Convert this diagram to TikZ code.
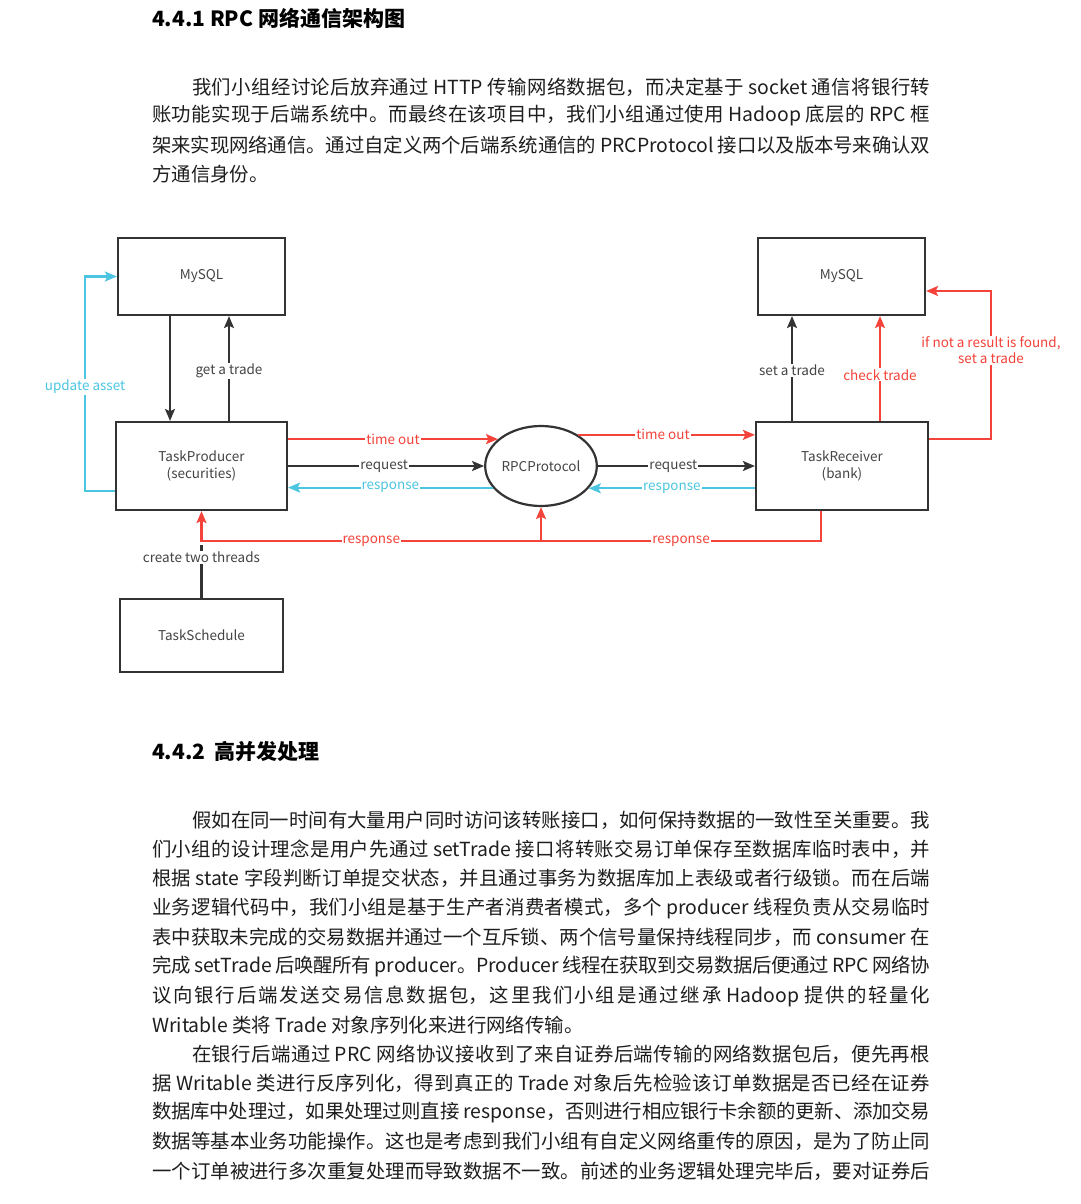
\documentclass[tikz,border=0pt]{standalone}
\usepackage{fontspec}
\setmainfont{Noto Sans CJK SC}
\usetikzlibrary{arrows.meta,shapes.geometric}
\XeTeXlinebreaklocale "zh"
\XeTeXlinebreakskip=0pt plus 4pt minus 1pt
\newcommand{\jline}[2]{\parbox{#1}{\tolerance=9999\parfillskip=0pt\noindent #2}}
\definecolor{cred}{HTML}{F4433A}
\definecolor{ccyan}{HTML}{4CC6E0}
\definecolor{dk}{HTML}{333333}
\definecolor{lbl}{HTML}{444444}
\definecolor{body}{HTML}{1E1E1E}
\tikzset{
  tip/.style={-{Stealth[length=12pt,width=10pt,inset=2.5pt]}},
  conn/.style={line width=2.1pt},
  blk/.style={conn,draw=dk},
  rd/.style={conn,draw=cred},
  cy/.style={conn,draw=ccyan},
  boxnode/.style={draw=dk,line width=2.2pt,inner sep=0pt,align=center,text=lbl,font=\fontsize{13.5}{16.5}\selectfont},
  lab/.style={fill=white,inner sep=1pt,font=\fontsize{13.5}{16}\selectfont},
  bodyline/.style={anchor=west,inner sep=0pt,text=body,font=\fontsize{19.4}{23}\selectfont},
  heading/.style={anchor=west,inner sep=0pt,text=black,font=\fontsize{21}{25}\selectfont\bfseries},
}
\begin{document}
\begin{tikzpicture}[x=1pt,y=-1pt]
\fill[white] (0,0) rectangle (1080,1204);
\useasboundingbox (0,0) rectangle (1080,1204);

% headings and text
\node[heading] (h1) at (152,18) {4.4.1 RPC 网络通信架构图};
\node[bodyline] (a1) at (192,87) {\jline{738pt}{我们小组经讨论后放弃通过 HTTP 传输网络数据包，而决定基于 socket 通信将银行转}};
\node[bodyline] (a2) at (152,116) {\jline{778pt}{账功能实现于后端系统中。而最终在该项目中，我们小组通过使用 Hadoop 底层的 RPC 框}};
\node[bodyline] (a3) at (152,145) {\jline{778pt}{架来实现网络通信。通过自定义两个后端系统通信的 PRCProtocol 接口以及版本号来确认双}};
\node[bodyline] (a4) at (152,174) {方通信身份。};

\node[heading] (h2) at (152,752) {4.4.2\ \ 高并发处理};
\node[bodyline] (b1) at (192,820) {\jline{738pt}{假如在同一时间有大量用户同时访问该转账接口，如何保持数据的一致性至关重要。我}};
\node[bodyline] (b2) at (152,849) {\jline{778pt}{们小组的设计理念是用户先通过 setTrade 接口将转账交易订单保存至数据库临时表中，并}};
\node[bodyline] (b3) at (152,878) {\jline{778pt}{根据 state 字段判断订单提交状态，并且通过事务为数据库加上表级或者行级锁。而在后端}};
\node[bodyline] (b4) at (152,908) {\jline{778pt}{业务逻辑代码中，我们小组是基于生产者消费者模式，多个 producer 线程负责从交易临时}};
\node[bodyline] (b5) at (152,937) {\jline{778pt}{表中获取未完成的交易数据并通过一个互斥锁、两个信号量保持线程同步，而 consumer 在}};
\node[bodyline] (b6) at (152,966) {\jline{778pt}{完成 setTrade 后唤醒所有 producer。Producer 线程在获取到交易数据后便通过 RPC 网络协}};
\node[bodyline] (b7) at (152,996) {\jline{778pt}{议向银行后端发送交易信息数据包，这里我们小组是通过继承 Hadoop 提供的轻量化}};
\node[bodyline] (b8) at (152,1025) {Writable 类将 Trade 对象序列化来进行网络传输。};
\node[bodyline] (c1) at (192,1054) {\jline{738pt}{在银行后端通过 PRC 网络协议接收到了来自证券后端传输的网络数据包后，便先再根}};
\node[bodyline] (c2) at (152,1083) {\jline{778pt}{据 Writable 类进行反序列化，得到真正的 Trade 对象后先检验该订单数据是否已经在证券}};
\node[bodyline] (c3) at (152,1112) {\jline{778pt}{数据库中处理过，如果处理过则直接 response，否则进行相应银行卡余额的更新、添加交易}};
\node[bodyline] (c4) at (152,1141) {\jline{778pt}{数据等基本业务功能操作。这也是考虑到我们小组有自定义网络重传的原因，是为了防止同}};
\node[bodyline] (c5) at (152,1171) {\jline{778pt}{一个订单被进行多次重复处理而导致数据不一致。前述的业务逻辑处理完毕后，要对证券后}};

% diagram nodes
\node[boxnode,minimum width=167pt,minimum height=77pt] (mysqlL) at (201.5,276.5) {MySQL};
\node[boxnode,minimum width=171pt,minimum height=88pt] (tp) at (201.5,466) {TaskProducer\\(securities)};
\node[boxnode,minimum width=163pt,minimum height=73pt] (ts) at (201.5,635.5) {TaskSchedule};
\node[boxnode,minimum width=167pt,minimum height=77pt] (mysqlR) at (841.5,276.5) {MySQL};
\node[boxnode,minimum width=172pt,minimum height=88pt] (tr) at (842,466) {TaskReceiver\\(bank)};
\node[boxnode,ellipse,minimum width=102pt,minimum height=80pt] (rpc) at (541,466) {RPCProtocol};

% helper coordinates
\coordinate (xa) at (170,0);
\coordinate (xb) at (229,0);
\coordinate (xu) at (85,0);
\coordinate (xs) at (792,0);
\coordinate (xc) at (880,0);
\coordinate (xf) at (991,0);
\coordinate (xr) at (821,0);
\coordinate (y491) at (0,491);
\coordinate (y541) at (0,541);
\coordinate (y545) at (0,545);
\coordinate (y439) at (0,439);
\coordinate (y291) at (0,291);

% left column
\draw[blk,tip] (xa |- mysqlL.south) -- (xa |- tp.north);
\draw[blk,tip] (xb |- tp.north) -- node[lab,text=lbl,pos=0.48] {get a trade} (xb |- mysqlL.south);
\draw[cy,tip] (tp.west |- y491) -- (xu |- y491) -- node[lab,text=ccyan,pos=0.486] {update asset} (xu |- mysqlL.west) -- (mysqlL.west);

% producer <-> rpc
\draw[rd,tip] (tp.east |- rpc.148) -- node[lab,text=cred,pos=0.5] {time out} (rpc.148);
\draw[blk,tip] (tp.east |- rpc.west) -- node[lab,text=lbl,pos=0.49] {request} (rpc.west);
\draw[cy,tip] (rpc.204) -- node[lab,text=ccyan,pos=0.5] {response} (tp.east |- rpc.204);

% rpc <-> receiver
\draw[rd,tip] (rpc.40) -- node[lab,text=cred,pos=0.48] {time out} (tr.west |- rpc.40);
\draw[blk,tip] (rpc.east) -- node[lab,text=lbl,pos=0.48] {request} (tr.west |- rpc.east);
\draw[cy,tip] (tr.west |- rpc.335) -- node[lab,text=ccyan,pos=0.5] {response} (rpc.335);

% bottom response loop
\draw[rd,tip] (xr |- tr.south) -- (xr |- y541) -- node[lab,text=cred,pos=0.5] {response} (rpc.south |- y541) -- node[lab,text=cred,pos=0.5] {response} (tp.south |- y541) -- (tp.south);
\draw[rd,tip] (rpc.south |- y541) -- (rpc.south);

% schedule
\draw[blk] (ts.north) -- node[lab,text=lbl,pos=0.77] {create two threads} (ts.north |- y545);

% right column
\draw[blk,tip] (xs |- tr.north) -- node[lab,text=lbl,pos=0.48] {set a trade} (xs |- mysqlR.south);
\draw[rd,tip] (xc |- tr.north) -- node[lab,text=cred,pos=0.44] {check trade} (xc |- mysqlR.south);
\draw[rd,tip] (tr.east |- y439) -- (xf |- y439) -- node[lab,text=cred,pos=0.6,align=center,font=\fontsize{13.5}{16}\selectfont] {if not a result is found,\\set a trade} (xf |- y291) -- (mysqlR.east |- y291);
\end{tikzpicture}
\end{document}
